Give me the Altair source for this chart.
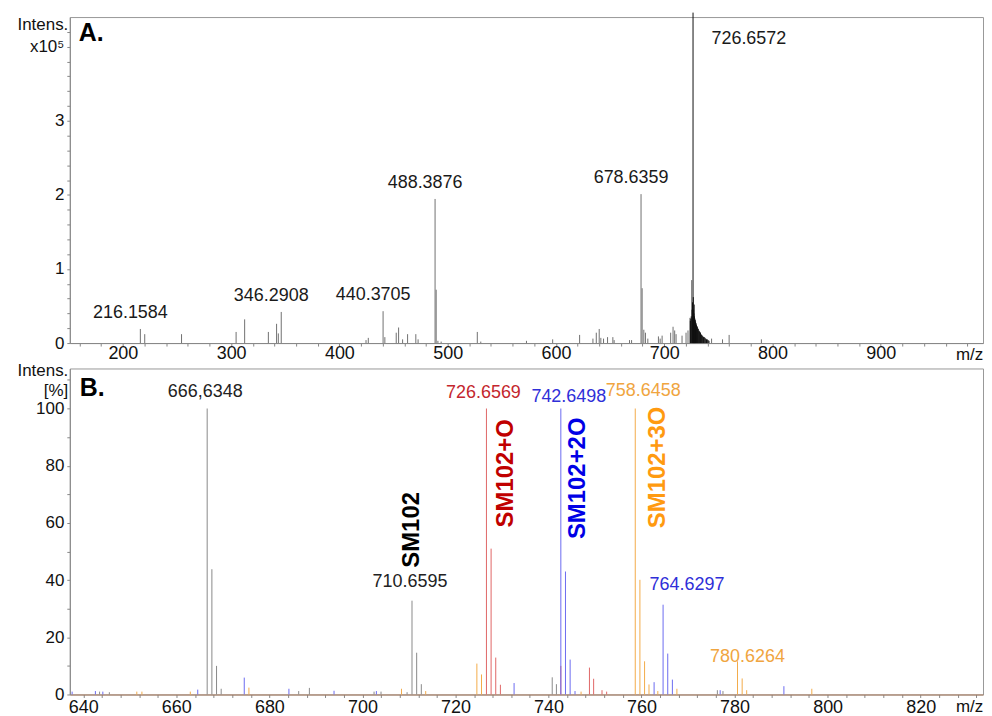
import altair as alt
import pandas as pd

FONT = "Liberation Sans"

# ---------------- Panel A (intensity in units of 1e5) ----------------
a_mz = [216.16, 220.2, 254.2, 304.6, 312.5, 334.4, 342.0, 343.6, 346.29, 424.6,
        426.7, 440.37, 442.0, 452.5, 454.7, 458.4, 463.0, 470.6, 472.7, 488.39,
        489.39, 491.0, 494.0, 527.4, 530.6, 572.8, 597.0, 621.9, 634.2, 637.3,
        640.0, 641.5, 644.0, 647.7, 652.6, 653.8, 668.0, 669.9, 678.64, 679.64,
        681.2, 682.7, 684.9, 694.7, 696.3, 698.1, 706.0, 708.2, 709.7, 711.0,
        716.5, 720.2, 722.0, 723.8, 725.4, 743.8, 753.9, 760.0, 789.8]
a_int = [0.19, 0.12, 0.12, 0.15, 0.32, 0.15, 0.26, 0.13, 0.42, 0.04,
         0.07, 0.43, 0.08, 0.14, 0.21, 0.05, 0.12, 0.12, 0.05, 1.945,
         0.72, 0.03, 0.02, 0.15, 0.02, 0.03, 0.05, 0.11, 0.06, 0.14,
         0.19, 0.07, 0.06, 0.08, 0.08, 0.04, 0.04, 0.04, 2.01, 0.74,
         0.18, 0.14, 0.06, 0.09, 0.06, 0.10, 0.14, 0.22, 0.17, 0.12,
         0.10, 0.14, 0.17, 0.34, 0.85, 0.06, 0.05, 0.11, 0.05]
# dense cluster around the base peak (drawn dark)
a_cl_mz = [724.2, 724.6, 725.0, 725.8, 726.2, 726.66, 726.9, 727.2, 727.5, 727.7,
           728.0, 728.4, 728.7, 729.0, 729.4, 729.8, 730.2, 730.6, 731.0, 731.5,
           732.0, 732.5, 733.0, 733.5, 734.0, 734.6, 735.2, 735.8, 736.4, 737.0,
           737.7, 738.4, 739.1, 739.8, 740.6, 741.4]
a_cl_int = [0.30, 0.33, 0.36, 0.45, 0.55, 4.46, 0.62, 0.45, 0.40, 0.52,
            0.36, 0.33, 0.31, 0.29, 0.27, 0.25, 0.23, 0.22, 0.20, 0.19,
            0.17, 0.16, 0.15, 0.14, 0.12, 0.11, 0.10, 0.09, 0.08, 0.08,
            0.07, 0.06, 0.05, 0.05, 0.04, 0.03]
a_lab_text = ["216.1584", "346.2908", "440.3705", "488.3876", "678.6359"]
a_lab_mz = [216.1584, 346.2908, 440.3705, 488.3876, 678.6359]
a_lab_int = [0.19, 0.42, 0.43, 1.945, 2.01]
a_top_text = ["726.6572"]
a_top_mz = [726.6572]
a_top_int = [4.46]

# ---------------- Panel B (relative intensity, %) ----------------
b_gray_mz = [643.5, 645.6, 666.63, 667.64, 668.64, 669.64, 686.3, 688.6, 702.5, 704.0,
             709.6, 710.66, 711.66, 712.66, 740.8, 741.7, 776.3, 777.5]
b_gray_int = [1.0, 0.8, 100, 43.8, 10.0, 2.0, 1.2, 2.3, 1.0, 1.0,
              0.8, 32.8, 14.6, 3.6, 6.0, 3.6, 1.5, 1.2]
b_red_mz = [726.66, 727.66, 728.66, 729.66, 742.65, 748.8, 749.7, 751.5, 752.5]
b_red_int = [100, 51, 12.9, 3.4, 10.0, 9.4, 5.5, 1.5, 1.0]
b_blue_mz = [637.6, 642.6, 644.2, 664.6, 674.6, 684.2, 693.9, 703.0, 732.6, 742.65,
             743.65, 744.65, 745.7, 762.7, 764.63, 765.63, 766.63, 776.9, 790.6]
b_blue_int = [1.0, 1.2, 1.0, 1.7, 5.9, 2.0, 1.3, 1.2, 4.0, 100,
              43, 12.2, 1.2, 4.3, 31.4, 14.3, 5.2, 1.5, 2.9]
b_orange_mz = [651.5, 652.6, 663.0, 675.6, 708.4, 713.6, 724.6, 725.6, 747.0, 758.65,
               759.65, 760.65, 761.6, 763.5, 767.6, 780.63, 781.63, 782.6, 796.6]
b_orange_int = [1.0, 1.0, 1.0, 2.4, 2.0, 1.2, 10.8, 7.0, 1.0, 100,
                40.1, 11.6, 3.5, 1.2, 2.0, 11.6, 5.6, 1.5, 2.0]

b_lab_text = ["666,6348", "710.6595", "726.6569", "742.6498", "758.6458", "764.6297", "780.6264"]
b_lab_mz = [666.6348, 710.6595, 726.6569, 742.6498, 758.6458, 764.6297, 780.6264]
b_lab_int = [100, 32.8, 100, 100, 100, 31.4, 11.6]

b_name_text = ["SM102", "SM102+O", "SM102+2O", "SM102+3O"]
b_name_mz = [710.6595, 726.6569, 742.6498, 758.6458]
b_name_int = [32.8, 100, 100, 100]

# ---------------- styles ----------------
W, H = 916, 327
b_lab_style = [("#222222", -2, -17), ("#222222", -2, -19), ("#c4262e", -3, -16),
               ("#2f2fd8", 8, -12), ("#f0a540", 8, -18), ("#2f2fd8", 24, -20),
               ("#f0a540", 10, -4)]
# rotated labels: (colour, screen dx, screen dy)
b_name_style = [("#000000", 0, -71), ("#c00000", 20, 65), ("#0000e6", 17, 70), ("#ff9a10", 23, 59)]

xa = alt.Scale(domain=[151, 994.5], nice=False, zero=False)
ya = alt.Scale(domain=[0, 4.4], nice=False)
xb = alt.Scale(domain=[637.1, 833.4], nice=False, zero=False)
yb = alt.Scale(domain=[0, 114], nice=False)

common_axis = dict(labelFont=FONT, titleFont=FONT, domainColor="#888888", tickColor="#888888",
                   tickSize=3, grid=False, labelColor="#111111", titleColor="#111111",
                   labelOverlap=False, labelFlush=False, titleFontWeight="normal")

ax_xa = alt.Axis(values=list(range(160, 990, 20)),
                 labelExpr="datum.value % 100 == 0 ? datum.label : ''",
                 labelFontSize=18, labelPadding=-2, title="m/z", titleFontSize=17,
                 titleX=902, titleY=3, titleBaseline="top", titleAlign="center",
                 **common_axis)
ax_ya = alt.Axis(values=[round(i * 0.2, 1) for i in range(0, 22)],
                 labelExpr="datum.value == 4 ? 'x10⁵' : (abs(datum.value - round(datum.value)) < 0.01 ? format(datum.value, 'd') : '')",
                 labelFontSize=17, labelPadding=3, title="Intens.", titleFontSize=17,
                 titleAngle=0, titleAlign="right", titleBaseline="top", titleX=-2, titleY=-1,
                 **common_axis)
ax_xb = alt.Axis(values=list(range(640, 834, 4)),
                 labelExpr="datum.value % 20 == 0 ? datum.label : ''",
                 labelFontSize=18, labelPadding=1, title="m/z", titleFontSize=17,
                 titleX=902, titleY=4, titleBaseline="top", titleAlign="center",
                 **{**common_axis, "domainColor": "#a8785a"})
ax_yb = alt.Axis(values=list(range(0, 114, 10)),
                 labelExpr="datum.value % 20 == 0 ? datum.label : ''",
                 labelFontSize=17, labelPadding=3, title=["Intens.", "[%]"], titleFontSize=17,
                 titleAngle=0, titleAlign="right", titleBaseline="top", titleX=-2, titleY=-6,
                 titleLineHeight=20, **common_axis)


def rules(mz, inten, color, xs, ys, axx, axy, width=1.0):
    df = pd.DataFrame({"mz": mz, "int": inten})
    return alt.Chart(df).mark_rule(color=color, strokeWidth=width).encode(
        x=alt.X("mz:Q", scale=xs, axis=axx),
        y=alt.Y("int:Q", scale=ys, axis=axy),
        y2=alt.datum(0),
    )


def texts(text, mz, inten, xs, ys, axx, axy, color, dx, dy, size=18, weight="normal", angle=0):
    df = pd.DataFrame({"t": text, "mz": mz, "int": inten})
    kw = dict(font=FONT, fontSize=size, fontWeight=weight, color=color, dx=dx, dy=dy,
              align="center", baseline="middle")
    if angle:
        kw["angle"] = angle
    return alt.Chart(df).mark_text(**kw).encode(
        x=alt.X("mz:Q", scale=xs, axis=axx),
        y=alt.Y("int:Q", scale=ys, axis=axy),
        text="t:N",
    )


def panel_label(txt, px, py):
    return alt.Chart(pd.DataFrame({"t": [txt]})).mark_text(
        font=FONT, fontSize=25, fontWeight="bold", align="left", baseline="middle", color="#000000"
    ).encode(x=alt.value(px), y=alt.value(py), text="t:N")


# ----- Panel A -----
A = (xa, ya, ax_xa, ax_ya)
layers_a = [
    rules(a_mz, a_int, "#707070", *A),
    rules(a_cl_mz, a_cl_int, "#111111", *A),
    texts(a_lab_text, a_lab_mz, a_lab_int, *A, "#1a1a1a", -10, -16),
    texts(a_top_text, a_top_mz, a_top_int, *A, "#1a1a1a", 56, 26),
    panel_label("A.", 9, 16),
]
panel_a = alt.layer(*layers_a).properties(width=W, height=H)

# ----- Panel B -----
B = (xb, yb, ax_xb, ax_yb)
layers_b = [
    rules(b_gray_mz, b_gray_int, "#8a8a8a", *B),
    rules(b_red_mz, b_red_int, "#e06666", *B),
    rules(b_blue_mz, b_blue_int, "#6b6bf0", *B),
    rules(b_orange_mz, b_orange_int, "#f3ac4a", *B),
]
for i, (c, dx, dy) in enumerate(b_lab_style):
    layers_b.append(texts([b_lab_text[i]], [b_lab_mz[i]], [b_lab_int[i]], *B, c, dx, dy))
for i, (c, sx, sy) in enumerate(b_name_style):
    # rotated frame: dx = -screen dy, dy = screen dx
    layers_b.append(texts([b_name_text[i]], [b_name_mz[i]], [b_name_int[i]], *B, c,
                          -sy, sx, size=24, weight="bold", angle=270))
layers_b.append(panel_label("B.", 10, 20))
panel_b = alt.layer(*layers_b).properties(width=W, height=H)

chart = alt.vconcat(panel_a, panel_b, spacing=25.5, bounds="flush").properties(
    padding={"left": 8, "top": 2, "right": 0, "bottom": 0}
).configure_view(stroke="#999999", strokeWidth=1).configure_axis(labelOverlap=False)

chart.save("out.html", embed_options={"renderer": "svg", "actions": False})
